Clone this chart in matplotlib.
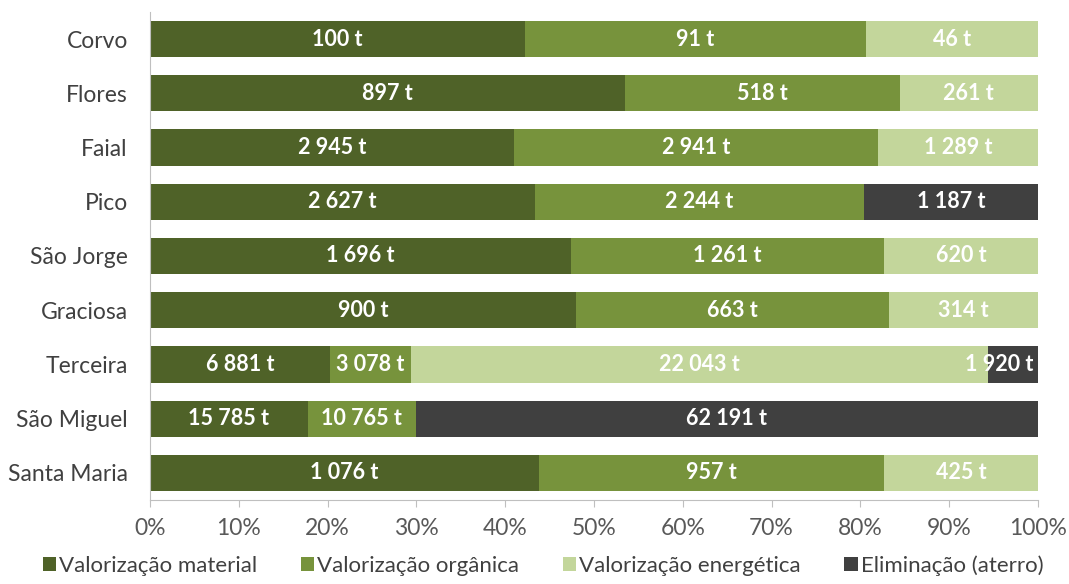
import matplotlib
matplotlib.use("Agg")
import matplotlib.pyplot as plt
import numpy as np

plt.rcParams['font.family'] = ['Lato', 'DejaVu Sans']

islands = ["Corvo", "Flores", "Faial", "Pico", "São Jorge", "Graciosa",
           "Terceira", "São Miguel", "Santa Maria"]
series_names = ["Valorização material", "Valorização orgânica",
                "Valorização energética", "Eliminação (aterro)"]
material = [100, 897, 2945, 2627, 1696, 900, 6881, 15785, 1076]
organica = [91, 518, 2941, 2244, 1261, 663, 3078, 10765, 957]
energetica = [46, 261, 1289, 0, 620, 314, 22043, 0, 425]
eliminacao = [0, 0, 0, 1187, 0, 0, 1920, 62191, 0]
colors = ["#4F6228", "#77933C", "#C3D69B", "#404040"]
xticks = np.arange(0, 1.01, 0.1)
xticklabels = [f"{int(round(t*100))}%" for t in xticks]

data = np.array([material, organica, energetica, eliminacao], dtype=float)
totals = data.sum(axis=0)
shares = data / totals

fig = plt.figure(figsize=(10.69, 5.84), dpi=100)
ax = fig.add_axes([150/1069, 1-500/584, (1038-150)/1069, (500-12)/584])

y = np.arange(len(islands))
left = np.zeros(len(islands))
for i, (name, col) in enumerate(zip(series_names, colors)):
    ax.barh(y, shares[i], left=left, height=0.67, color=col, label=name,
            edgecolor='none')
    for j in range(len(islands)):
        v = data[i, j]
        if v > 0:
            txt = f"{int(v):,} t".replace(",", " ")
            xc = left[j] + shares[i, j]/2
            ha = 'center'
            if shares[i, j] < 0.08 and left[j] + shares[i, j] > 0.99:
                xc, ha = 0.995, 'right'
            ax.text(xc, y[j], txt, ha=ha, va='center',
                    color='white', fontsize=15.5, fontweight='bold')
    left += shares[i]

ax.set_ylim(len(islands)-0.5, -0.5)
ax.set_xlim(0, 1)
ax.set_yticks(y)
ax.set_yticklabels(islands, fontsize=16.5, color='#404040')
ax.set_xticks(xticks)
ax.set_xticklabels(xticklabels, fontsize=16.5, color='#595959')
ax.tick_params(axis='y', length=0, pad=16)
ax.tick_params(axis='x', length=5, color='#BFBFBF', pad=8)
for s in ['top', 'right']:
    ax.spines[s].set_visible(False)
ax.spines['left'].set_color('#BFBFBF')
ax.spines['bottom'].set_color('#BFBFBF')

leg = fig.legend(loc='lower center', bbox_to_anchor=(0.508, -0.02), ncol=4,
                 frameon=False, fontsize=16, handlelength=0.6, handleheight=0.6,
                 handletextpad=0.15, columnspacing=1.95, labelcolor='#404040')

fig.savefig("out.png", dpi=100)
